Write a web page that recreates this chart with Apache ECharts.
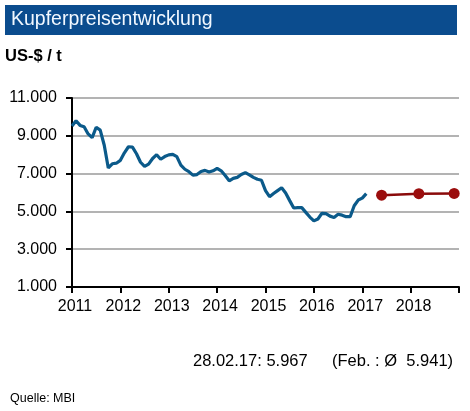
<!DOCTYPE html>
<html>
<head>
<meta charset="utf-8">
<script src="https://cdn.jsdelivr.net/npm/echarts@6/dist/echarts.min.js"></script>
<style>
  html, body { margin: 0; padding: 0; background: #fff; }
  #main { width: 470px; height: 411px; }
</style>
</head>
<body>
<div id="main"></div>
<script>
// Kupferpreis (US-$/t), Monatswerte ab Jan. 2011
var startYear = 2011;
var priceMonthly = [
  9520, 9800, 9550, 9480, 9100, 8900, 9450, 9300, 8500, 7300, 7520, 7550, // 2011
  7700, 8100, 8420, 8400, 8050, 7600, 7380, 7500, 7800, 8000, 7760, 7900, // 2012
  7990, 8020, 7900, 7450, 7230, 7100, 6920, 6950, 7110, 7170, 7080, 7150, // 2013
  7280, 7150, 6900, 6620, 6750, 6800, 6950, 7050, 6930, 6800, 6700, 6650, // 2014
  6100, 5780, 5950, 6100, 6250, 5970, 5570, 5180, 5200, 5200, 4950, 4700, // 2015
  4500, 4600, 4900, 4880, 4750, 4680, 4850, 4800, 4720, 4720, 5300, 5600, // 2016
  5700, 5940                                                              // 2017
];
// Prognose
var forecastX = [2017.4, 2018.17, 2018.9];
var forecastValues = [5860, 5940, 5950];

var yearTicks = ['2011', '2012', '2013', '2014', '2015', '2016', '2017', '2018'];
var yTicks = ['1.000', '3.000', '5.000', '7.000', '9.000', '11.000'];

var font = 'Liberation Sans, Arial, sans-serif';

var priceData = priceMonthly.map(function (v, i) { return [startYear + i / 12, v]; });
var forecastData = forecastValues.map(function (v, i) { return [forecastX[i], v]; });

var myChart = echarts.init(document.getElementById('main'));
var option = {
  backgroundColor: '#fff',
  animation: false,
  grid: { left: 72, right: 11, top: 98, bottom: 124 },
  xAxis: {
    type: 'value',
    min: 2011, max: 2019, interval: 1,
    axisLine: { lineStyle: { color: '#000', width: 2 } },
    axisTick: { show: true, length: 6, lineStyle: { color: '#000', width: 2 } },
    splitLine: { show: false },
    axisLabel: {
      margin: 12,
      color: '#000',
      fontSize: 16,
      fontFamily: font,
      padding: [0, 0, 0, 6],
      formatter: function (v) {
        var s = String(Math.round(v));
        return yearTicks.indexOf(s) >= 0 ? s : '';
      }
    }
  },
  yAxis: {
    type: 'value',
    min: 1000, max: 11000, interval: 2000,
    axisLine: { show: true, lineStyle: { color: '#000', width: 2 } },
    axisTick: { show: true, length: 6, lineStyle: { color: '#000', width: 2 } },
    splitLine: { lineStyle: { color: '#b3b3b3', width: 2 } },
    axisLabel: {
      margin: 15,
      color: '#000',
      fontSize: 16,
      fontFamily: font,
      formatter: function (v) {
        return yTicks[Math.round((v - 1000) / 2000)];
      }
    }
  },
  series: [
    {
      name: 'Kupfer',
      type: 'line',
      data: priceData,
      showSymbol: false,
      lineStyle: { color: '#0b5a8a', width: 3.2 },
      z: 3
    },
    {
      name: 'Prognose',
      type: 'line',
      data: forecastData,
      symbol: 'circle',
      symbolSize: 11,
      itemStyle: { color: '#9b0d0d' },
      lineStyle: { color: '#8a0a0a', width: 2.5 },
      z: 3
    }
  ],
  graphic: [
    {
      type: 'rect',
      shape: { x: 5, y: 5, width: 452, height: 30 },
      style: { fill: '#0b4c8e' }
    },
    {
      type: 'text', left: 11, top: 10,
      style: { text: 'Kupferpreisentwicklung', fill: '#f2f8ff', font: '19.5px ' + font }
    },
    {
      type: 'text', left: 5, top: 48,
      style: { text: 'US-$ / t', fill: '#000', font: 'bold 16.5px ' + font }
    },
    {
      type: 'text', left: 193, top: 353,
      style: { text: '28.02.17: 5.967', fill: '#000', font: '16.5px ' + font }
    },
    {
      type: 'text', left: 332, top: 353,
      style: { text: '(Feb. : Ø  5.941)', fill: '#000', font: '16.5px ' + font }
    },
    {
      type: 'text', left: 10, top: 392,
      style: { text: 'Quelle: MBI', fill: '#000', font: '12.5px ' + font }
    }
  ]
};
myChart.setOption(option);
</script>
</body>
</html>
